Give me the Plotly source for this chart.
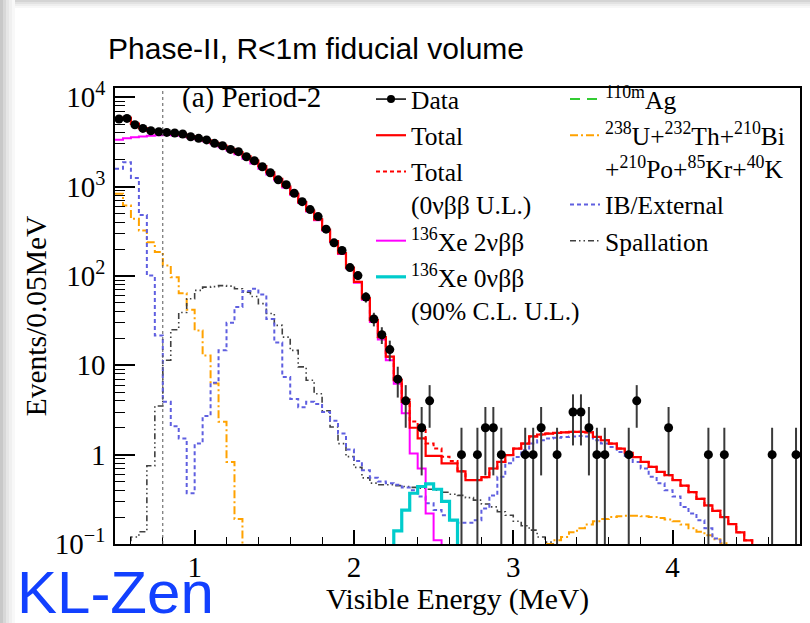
import numpy as np
import plotly.graph_objects as go

# ---------------- binning ----------------
E_MIN, E_MAX, BIN_WIDTH = 0.5, 4.8, 0.05
THRESHOLD_MEV = 0.8
Y_MIN, Y_MAX = 0.1, 12700

bin_low = np.round(np.arange(E_MIN, E_MAX - 1e-9, BIN_WIDTH), 4)   # 86 bins
bin_center = bin_low + BIN_WIDTH / 2
edges = np.append(bin_low, E_MAX)

# ---------------- data (events / 0.05 MeV) ----------------
data_counts = [5710, 5800, 4930, 4480, 4220, 4110, 4040, 3980, 3880, 3620,
               3470, 3330, 3050, 2870, 2610, 2460, 2160, 1950, 1670, 1430,
               1190, 1050, 842, 679, 553, 462, 334, 235, 193, 124,
               101, 58, 33, 22, 15, 7, 4, 0, 2, 4,
               0, 0, 0, 1, 0, 1, 2, 2, 1, 0,
               0, 1, 1, 2, 0, 1, 0, 3, 3, 2,
               1, 1, 0, 0, 1, 4, 0, 0, 0, 2,
               0, 0, 0, 0, 1, 0, 1, 0, 0, 0,
               0, 0, 1, 0, 0, 1]

total = [5750, 5900, 5050, 4500, 4200, 4080, 4000, 3930, 3820, 3650,
         3480, 3300, 3080, 2860, 2640, 2420, 2180, 1950, 1700, 1440,
         1220, 1010, 830, 670, 540, 430, 330, 245, 180, 124,
         86, 56, 32, 20.7, 12.5, 6.8, 3.9, 2.0, 1.52, 0.97,
         0.97, 0.80, 0.80, 0.65, 0.52, 0.52, 0.56, 0.70, 0.83, 0.99,
         1.17, 1.33, 1.60, 1.68, 1.72, 1.75, 1.78, 1.80, 1.80, 1.78,
         1.58, 1.45, 1.33, 1.17, 1.05, 0.94, 0.83, 0.73, 0.64, 0.59,
         0.52, 0.45, 0.38, 0.32, 0.27, 0.235, 0.20, 0.167, 0.135, 0.11,
         0.09, 0.07, 0.055, 0.04, 0.03, 0.02]

total_0nbb_ul = [5750, 5900, 5050, 4500, 4200, 4080, 4000, 3930, 3820, 3650,
                 3480, 3300, 3080, 2860, 2640, 2420, 2180, 1950, 1700, 1440,
                 1220, 1010, 830, 670, 540, 430, 330, 245, 180, 124,
                 86, 56, 32, 20.7, 12.5, 6.95, 4.15, 2.35, 1.95, 1.33,
                 1.17, 0.95, 0.85, 0.65, 0.52, 0.52, 0.56, 0.70, 0.83, 0.99,
                 1.17, 1.33, 1.60, 1.68, 1.72, 1.75, 1.78, 1.80, 1.80, 1.78,
                 1.58, 1.45, 1.33, 1.17, 1.05, 0.94, 0.83, 0.73, 0.64, 0.59,
                 0.52, 0.45, 0.38, 0.32, 0.27, 0.235, 0.20, 0.167, 0.135, 0.11,
                 0.09, 0.07, 0.055, 0.04, 0.03, 0.02]

xe136_2nbb = [3350, 3470, 3560, 3650, 3720, 3770, 3790, 3770, 3715, 3550,
              3385, 3210, 2990, 2765, 2530, 2300, 2045, 1820, 1590, 1370,
              1175, 980, 808, 655, 528, 420, 322, 240, 176, 121,
              84, 54, 30.5, 19.5, 11.4, 6.2, 2.9, 1.03, 0.70, 0.22,
              0.11] + [0.01] * 45

xe136_0nbb_ul = [0.01] * 35 + [0.14, 0.24, 0.37, 0.44, 0.47, 0.41, 0.30, 0.185] + [0.01] * 43

ib_external = [1580, 1870, 1250, 480, 101, 21.6, 3.9, 2.08, 1.52, 0.37,
               1.33, 2.7, 6.4, 14.7, 30, 45, 68, 72, 62, 33,
               18, 7.4, 4.2, 3.4, 3.9, 3.7, 3.0, 2.4, 1.72, 1.14,
               0.85, 0.67, 0.55, 0.50, 0.48, 0.46, 0.43, 0.40, 0.34, 0.285,
               0.24, 0.21, 0.185, 0.173, 0.173, 0.185, 0.25, 0.35, 0.565, 0.80,
               0.94, 1.12, 1.33, 1.45, 1.52, 1.55, 1.58, 1.60, 1.62, 1.60,
               1.45, 1.33, 1.22, 1.07, 0.94, 0.83, 0.70, 0.565, 0.48, 0.40,
               0.34, 0.26, 0.22, 0.185, 0.15, 0.115, 0.09, 0.07, 0.05, 0.03,
               0.02, 0.01, 0.01, 0.01, 0.01, 0.01]

spallation = [0.01, 0.01, 0.12, 0.137, 0.75, 3.5, 11.4, 25, 39, 55.6,
              69, 75, 76, 78, 77, 72, 66, 59, 49, 38,
              28, 20.7, 14.7, 9.6, 6.8, 4.8, 3.1, 2.04, 1.33, 0.95,
              0.72, 0.55, 0.48, 0.46, 0.46, 0.45, 0.44, 0.43, 0.42, 0.41,
              0.40, 0.38, 0.36, 0.35, 0.33, 0.31, 0.28, 0.26, 0.23, 0.21,
              0.18, 0.16, 0.143, 0.12, 0.105, 0.09, 0.08, 0.07, 0.06, 0.05] + [0.01] * 26

u_th_chain = ([830, 614, 436, 322, 239, 185, 131, 97, 64, 42,
               24.6, 12.9, 6.25, 2.33, 0.83, 0.19] + [0.01] * 38 +
              [0.10, 0.11, 0.12, 0.135, 0.15, 0.165, 0.18, 0.19, 0.20, 0.205,
               0.207, 0.207, 0.205, 0.20, 0.195, 0.188, 0.18, 0.165, 0.15, 0.137,
               0.125, 0.113, 0.102, 0.092] + [0.01] * 8)

y_tickvals = [0.1, 1, 10, 100, 1000, 10000]
y_ticktext = ["10<sup>\u22121</sup>", "1", "10", "10<sup>2</sup>", "10<sup>3</sup>", "10<sup>4</sup>"]
x_tickvals = [1, 2, 3, 4]
x_ticktext = ["1", "2", "3", "4"]

SERIF = "Liberation Serif, Times New Roman, serif"
SANS = "Liberation Sans, Arial, sans-serif"

# ---------------- figure ----------------
fig = go.Figure()


def add_hist(name, vals, color, width, dash, legend, rank, showlegend=True):
    vals = np.asarray(vals, dtype=float)
    fig.add_trace(go.Scatter(
        x=edges, y=np.append(vals, vals[-1]), mode="lines",
        line=dict(shape="hv", color=color, width=width, dash=dash),
        name=name, legend=legend, legendrank=rank, showlegend=showlegend,
        hoverinfo="skip"))


add_hist("<sup>238</sup>U+<sup>232</sup>Th+<sup>210</sup>Bi<br>+<sup>210</sup>Po+<sup>85</sup>Kr+<sup>40</sup>K",
         u_th_chain, "#ffa200", 2, "8px,3px,2px,3px", "legend2", 2)
add_hist("Spallation", spallation, "#404040", 1.6, "6px,3px,1.5px,3px,1.5px,3px", "legend2", 4)
add_hist("IB/External", ib_external, "#5f5fe0", 2, "4px,3px", "legend2", 3)
fig.add_trace(go.Scatter(x=[None], y=[None], mode="lines", name="<sup>110m</sup>Ag",
                         line=dict(color="#33cc33", width=2, dash="10px,7px"),
                         legend="legend2", legendrank=1))
add_hist("<sup>136</sup>Xe 2\u03bd\u03b2\u03b2", xe136_2nbb, "#ff00ff", 2, "solid", "legend", 4)
add_hist("<sup>136</sup>Xe 0\u03bd\u03b2\u03b2<br>(90% C.L. U.L.)", xe136_0nbb_ul, "#00cccc", 3.2, "solid", "legend", 5)
add_hist("Total<br>(0\u03bd\u03b2\u03b2 U.L.)", total_0nbb_ul, "#ff0000", 2, "4px,3px", "legend", 3)
add_hist("Total", total, "#ff0000", 2.2, "solid", "legend", 2)

counts = np.asarray(data_counts, dtype=float)
mask = counts > 0
fig.add_trace(go.Scatter(
    x=bin_center[mask], y=counts[mask], mode="markers",
    marker=dict(color="black", size=9),
    error_y=dict(type="data", array=np.sqrt(counts[mask]), color="#3a3a3a", thickness=2, width=0),
    showlegend=False, name="Data"))
fig.add_trace(go.Scatter(x=[None], y=[None], mode="lines+markers", name="Data",
                         line=dict(color="black", width=1.5), marker=dict(color="black", size=8),
                         legend="legend", legendrank=1))

fig.add_vline(x=THRESHOLD_MEV, line=dict(color="#555555", width=1, dash="dot"))

# ---------------- layout ----------------
L, R, T, B, W, H = 115, 10, 88, 79, 810, 623
PW, PH = W - L - R, H - T - B


def px_x(p):
    return (p - L) / PW


def px_y(p):
    return (H - B - p) / PH


y_minor = [m * 10 ** d for d in range(-1, 5) for m in range(2, 10) if m * 10 ** d < Y_MAX]

fig.update_layout(
    width=W, height=H,
    margin=dict(l=L, r=R, t=T, b=B, autoexpand=False),
    paper_bgcolor="white", plot_bgcolor="white",
    title=dict(text="Phase-II, R&lt;1m fiducial volume", x=108 / W, xanchor="left",
               y=1 - 48 / H, yanchor="middle", font=dict(family=SANS, size=30, color="black")),
    xaxis=dict(range=[E_MIN, E_MAX], showgrid=False, zeroline=False,
               showline=True, linecolor="black", linewidth=1.5, mirror=True,
               ticks="inside", ticklen=14, tickwidth=1.5, tickcolor="black",
               tickvals=x_tickvals, ticktext=x_ticktext, ticklabelstandoff=-4,
               tickfont=dict(family=SERIF, size=29, color="black"),
               minor=dict(ticks="inside", ticklen=7, tickwidth=1, tickcolor="black",
                          tick0=0, dtick=0.2, showgrid=False),
               title=dict(text="Visible Energy (MeV)", standoff=2,
                          font=dict(family=SERIF, size=29.5, color="black"))),
    yaxis=dict(type="log", range=[np.log10(Y_MIN), np.log10(Y_MAX)], showgrid=False, zeroline=False,
               showline=True, linecolor="black", linewidth=1.5, mirror=True,
               ticks="inside", ticklen=20, tickwidth=1.5, tickcolor="black",
               tickvals=y_tickvals, ticktext=y_ticktext, ticklabelstandoff=2,
               tickfont=dict(family=SERIF, size=29, color="black"),
               minor=dict(ticks="inside", ticklen=10, tickwidth=1, tickcolor="black",
                          tickvals=y_minor, showgrid=False),
               title=dict(text="Events/0.05MeV", standoff=0,
                          font=dict(family=SERIF, size=29.5, color="black"))),
    legend=dict(x=px_x(371), y=px_y(76), xanchor="left", yanchor="top",
                bgcolor="rgba(0,0,0,0)", borderwidth=0, valign="top", tracegroupgap=0,
                font=dict(family=SERIF, size=25.5, color="black")),
    legend2=dict(x=px_x(565), y=px_y(76), xanchor="left", yanchor="top",
                 bgcolor="rgba(0,0,0,0)", borderwidth=0, valign="top", tracegroupgap=0,
                 font=dict(family=SERIF, size=25.5, color="black")),
    showlegend=True,
)

fig.add_annotation(text="(a) Period-2", xref="paper", yref="paper", x=px_x(180), y=px_y(97),
                   xanchor="left", yanchor="middle", showarrow=False,
                   font=dict(family=SERIF, size=29, color="black"))
fig.add_annotation(text="KL-Zen", xref="paper", yref="paper", x=px_x(15), y=px_y(592),
                   xanchor="left", yanchor="middle", showarrow=False,
                   font=dict(family=SANS, size=60, color="#1240ff"))

# slide shadow on left / top edges
for i, c in enumerate(["#c8c8c8", "#d8d8d8", "#e6e6e6", "#f0f0f0", "#f8f8f8"]):
    fig.add_shape(type="rect", xref="paper", yref="paper", layer="below",
                  x0=px_x(i * 3), x1=px_x(i * 3 + 3), y0=px_y(H), y1=px_y(0),
                  fillcolor=c, line=dict(width=0))
for i, c in enumerate(["#d4d4d4", "#e2e2e2", "#eeeeee", "#f7f7f7"]):
    fig.add_shape(type="rect", xref="paper", yref="paper", layer="below",
                  x0=px_x(15), x1=px_x(W), y0=px_y(i * 2 + 2), y1=px_y(i * 2),
                  fillcolor=c, line=dict(width=0))

fig.write_html("out.html", config={"displayModeBar": False},
               post_script="document.body.style.margin='0px';")
